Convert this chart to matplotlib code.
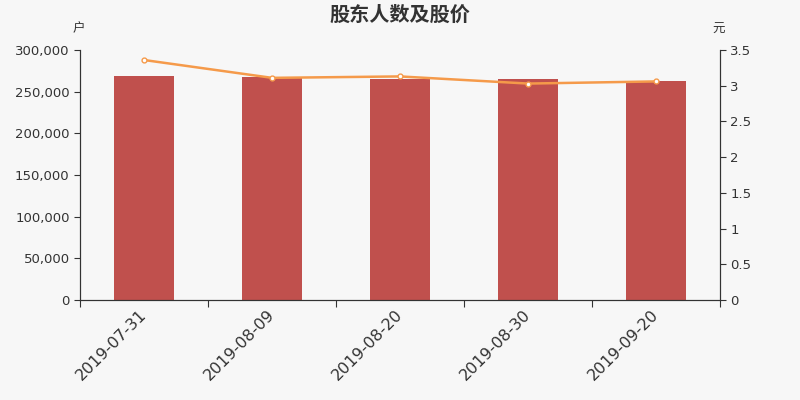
import matplotlib
matplotlib.use("Agg")
import matplotlib.pyplot as plt
from matplotlib.ticker import FuncFormatter
import numpy as np

plt.rcParams['font.family'] = ['DejaVu Sans', 'Noto Sans CJK SC']

dates = ["2019-07-31", "2019-08-09", "2019-08-20", "2019-08-30", "2019-09-20"]
holders = [268500, 267200, 265200, 265200, 263200]
price = [3.36, 3.11, 3.13, 3.03, 3.06]

bg = "#f7f7f7"
axis_col = "#333333"

fig = plt.figure(figsize=(8, 4), dpi=100, facecolor=bg)
ax = fig.add_axes([0.1, 0.25, 0.8, 0.625], facecolor=bg)
ax2 = ax.twinx()

x = np.arange(len(dates))
ax.bar(x, holders, width=0.47, color="#c0504d", zorder=2)
ax2.plot(x, price, color="#f59a4a", lw=1.8, marker="o", ms=3.5,
         mfc="white", mec="#f59a4a", mew=1, zorder=3)

ax.set_xlim(-0.5, len(dates) - 0.5)
ax.set_ylim(0, 300000)
ax2.set_ylim(0, 3.5)
ax.set_yticks(np.arange(0, 300001, 50000))
ax.yaxis.set_major_formatter(FuncFormatter(lambda v, p: f"{int(v):,}"))
ax2.set_yticks(np.arange(0, 3.51, 0.5))
ax2.yaxis.set_major_formatter(FuncFormatter(lambda v, p: f"{v:g}"))

# category boundary ticks, labels centred under bars
ax.set_xticks(np.arange(-0.5, len(dates), 1.0))
ax.set_xticklabels([])
ax.set_xticks(x, minor=True)
ax.set_xticklabels(dates, minor=True, rotation=45, ha="right", va="center",
                   rotation_mode="anchor", fontsize=11.5, color=axis_col)
ax.tick_params(axis="x", which="minor", length=0, pad=9)
ax.tick_params(axis="x", which="major", length=5, color=axis_col)

for a in (ax, ax2):
    a.spines["top"].set_visible(False)
    for s in ("left", "right", "bottom"):
        a.spines[s].set_color(axis_col)
    a.tick_params(axis="y", length=4, color=axis_col, labelcolor=axis_col,
                  labelsize=9.5)

fig.text(0.5, 0.965, "股东人数及股价", ha="center", va="center",
         fontsize=14.5, fontweight="bold", color=axis_col,
         family=["Noto Sans CJK SC", "DejaVu Sans"])
fig.text(0.098, 0.927, "户", ha="center", va="center", fontsize=9,
         color=axis_col, family=["Noto Sans CJK SC", "DejaVu Sans"])
fig.text(0.898, 0.927, "元", ha="center", va="center", fontsize=9,
         color=axis_col, family=["Noto Sans CJK SC", "DejaVu Sans"])

fig.savefig("out.png", dpi=100, facecolor=bg)
